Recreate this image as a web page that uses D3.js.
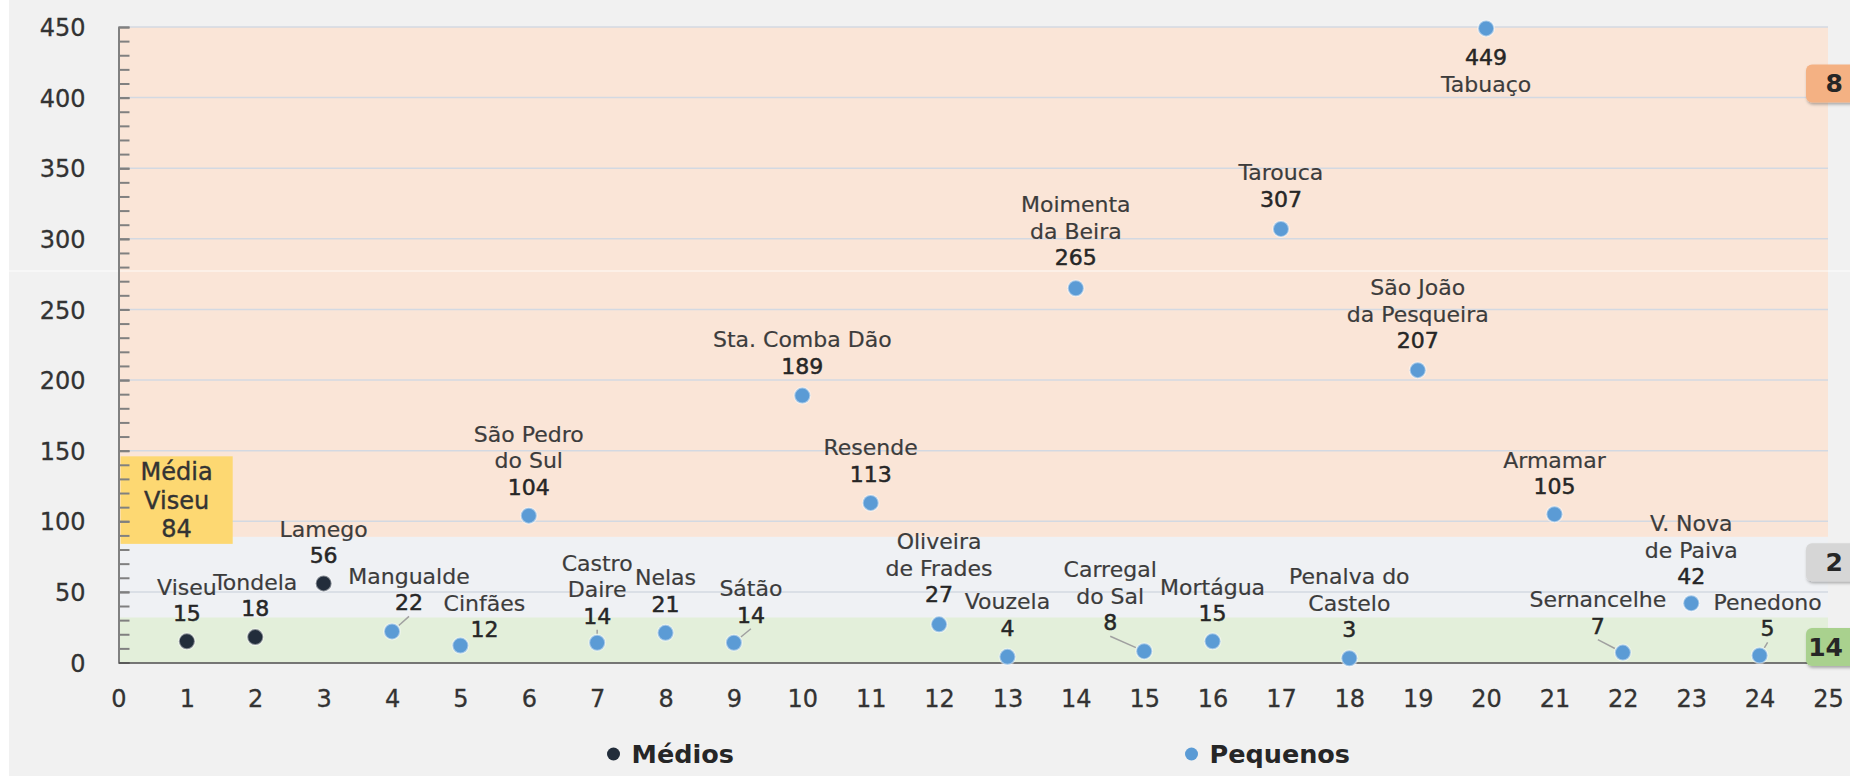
<!DOCTYPE html>
<html>
<head>
<meta charset="utf-8">
<script src="https://cdn.jsdelivr.net/npm/d3@7"></script>
<style>
  body { margin: 0; background: #f1f1f1; overflow: hidden; }
  text { font-family: "DejaVu Sans", sans-serif; }
</style>
</head>
<body>
<div id="chart"></div>
<script>
// data
var mediosNames = ["Viseu", "Tondela", "Lamego"];
var mediosX = [1, 2, 3];
var mediosValues = [15, 18, 56];

var pequenosNames = ["Mangualde", "Cinfães", "São Pedro\ndo Sul", "Castro\nDaire", "Nelas", "Sátão",
  "Sta. Comba Dão", "Resende", "Oliveira\nde Frades", "Vouzela", "Moimenta\nda Beira", "Carregal\ndo Sal",
  "Mortágua", "Tarouca", "Penalva do\nCastelo", "São João\nda Pesqueira", "Tabuaço", "Armamar",
  "Sernancelhe", "V. Nova\nde Paiva", "Penedono"];
var pequenosX = [4, 5, 6, 7, 8, 9, 10, 11, 12, 13, 14, 15, 16, 17, 18, 19, 20, 21, 22, 23, 24];
var pequenosValues = [22, 12, 104, 14, 21, 14, 189, 113, 27, 4, 265, 8, 15, 307, 3, 207, 449, 105, 7, 42, 5];

var mediaViseu = 84;
var seriesNames = ["Médios", "Pequenos"];
var yTicks = [0, 50, 100, 150, 200, 250, 300, 350, 400, 450];
var xTicks = [0, 1, 2, 3, 4, 5, 6, 7, 8, 9, 10, 11, 12, 13, 14, 15, 16, 17, 18, 19, 20, 21, 22, 23, 24, 25];
var bandEdges = [0, 32, 89, 450];   // green / grey / orange zones

// label placement (pixels, relative to the dot), indexed by x - 1
var labelDx = [0, 0, 0, 17, 24, 0, 0, 0, 17, 0, 0, 0, 0, 0, -34, 0, 0, 0, 0, 0, 0, -25, 0, 8];
var labelDy = [-28, -29, -28, -29, -16, -29, -27, -29, -28, -30, -29, -30, -29, -31, -29, -28, -30, -29, -30, 29, -28, -27, -27, -27];
var leaderAt = [4, 7, 9, 15, 22, 24];
var countBoxAt = [11, 71, 410];

var w = 1850, h = 778;
var colMedios = '#222d3b', colPequenos = '#5b9bd5';

var x = d3.scaleLinear().domain([0, 25]).range([118.5, 1828]);
var y = d3.scaleLinear().domain([0, 450]).range([662.5, 27]);

var svg = d3.select('#chart').append('svg')
    .attr('width', w)
    .attr('height', h);

var defs = svg.append('defs');
defs.append('filter').attr('id', 'shadow')
    .attr('x', '-30%').attr('y', '-30%').attr('width', '160%').attr('height', '160%')
  .append('feDropShadow')
    .attr('dx', 1).attr('dy', 2).attr('stdDeviation', 1.5)
    .attr('flood-color', '#000').attr('flood-opacity', 0.3);

//background
svg.append('rect').attr('width', w).attr('height', h).attr('fill', '#ffffff');
svg.append('rect').attr('x', 9).attr('width', w - 9).attr('height', h - 2).attr('fill', '#f1f1f1');

//zones
var bandColors = ['#e3efda', '#eff1f4', '#fae5d7'];
svg.selectAll('rect.band')
    .data(bandColors)
  .enter().append('rect')
    .attr('class', 'band')
    .attr('x', x(0))
    .attr('width', x(25) - x(0))
    .attr('y', function(d, i) { return y(bandEdges[i + 1]); })
    .attr('height', function(d, i) { return y(bandEdges[i]) - y(bandEdges[i + 1]); })
    .attr('fill', function(d) { return d; });

// faint seam in the original picture
svg.append('line')
    .attr('x1', 0).attr('x2', w)
    .attr('y1', 271).attr('y2', 271)
    .attr('stroke', '#ffffff').attr('stroke-width', 1.2).attr('opacity', 0.8);

//gridlines
svg.selectAll('line.grid')
    .data(yTicks.slice(1))
  .enter().append('line')
    .attr('class', 'grid')
    .attr('x1', x(0)).attr('x2', x(25))
    .attr('y1', function(d) { return y(d); })
    .attr('y2', function(d) { return y(d); })
    .attr('stroke', '#d3d9e2')
    .attr('stroke-width', 1.5);

//Média Viseu box
svg.append('rect')
    .attr('x', x(0.03)).attr('width', x(1.67) - x(0.03))
    .attr('y', y(146)).attr('height', y(mediaViseu) - y(146))
    .attr('fill', '#fdd872');
var boxCx = (x(0.03) + x(1.67)) / 2, boxCy = (y(146) + y(mediaViseu)) / 2;
svg.selectAll('text.media')
    .data(['Média', 'Viseu', String(mediaViseu)])
  .enter().append('text')
    .attr('class', 'media')
    .attr('x', boxCx)
    .attr('y', function(d, i) { return boxCy + (i - 1) * 28.5; })
    .attr('dy', '0.36em')
    .attr('text-anchor', 'middle')
    .attr('font-size', 24)
    .attr('fill', '#333')
    .attr('stroke', '#333').attr('stroke-width', 0.4)
    .text(function(d) { return d; });

//axes
var minor = d3.range(0, 451, 10);
var yMinor = svg.append('g')
    .attr('transform', 'translate(' + x(0) + ',0)')
    .call(d3.axisLeft(y).tickValues(minor).tickFormat('').tickSizeInner(-11).tickSizeOuter(0));
var yAxis = svg.append('g')
    .attr('transform', 'translate(' + x(0) + ',0)')
    .call(d3.axisLeft(y).tickValues(yTicks).tickSizeInner(-11).tickSizeOuter(0).tickPadding(33));
[yMinor, yAxis].forEach(function(g) {
  g.selectAll('.tick line').attr('stroke', '#808080').attr('stroke-width', 2);
  g.select('.domain').attr('stroke', '#808080').attr('stroke-width', 2);
});
yAxis.selectAll('text')
    .attr('font-size', 24)
    .attr('fill', '#333')
    .attr('stroke', '#333').attr('stroke-width', 0.3)
    .attr('dy', '0.36em');

var xAxis = svg.append('g')
    .attr('transform', 'translate(0,' + y(0) + ')')
    .call(d3.axisBottom(x).tickValues(xTicks).tickSize(0).tickPadding(0));
xAxis.select('.domain').attr('stroke', '#4d4d4d').attr('stroke-width', 1.6);
xAxis.selectAll('text')
    .attr('y', 35.5)
    .attr('dy', '0.36em')
    .attr('font-size', 24)
    .attr('fill', '#333')
    .attr('stroke', '#333').attr('stroke-width', 0.3);

//points
var points = [];
mediosX.forEach(function(v, i) {
  points.push({ x: v, v: mediosValues[i], name: mediosNames[i], color: colMedios });
});
pequenosX.forEach(function(v, i) {
  points.push({ x: v, v: pequenosValues[i], name: pequenosNames[i], color: colPequenos });
});
points.forEach(function(p) {
  p.cx = x(p.x); p.cy = y(p.v);
  p.lx = p.cx + labelDx[p.x - 1];
  p.ly = p.cy + labelDy[p.x - 1];
});

var r = 8;

//leader lines
svg.selectAll('line.leader')
    .data(points.filter(function(p) { return leaderAt.indexOf(p.x) >= 0; }))
  .enter().append('line')
    .attr('class', 'leader')
    .attr('x1', function(p) { return p.lx; })
    .attr('y1', function(p) { return p.ly + 14; })
    .attr('x2', function(p) {
      var dx = p.lx - p.cx, dy = p.ly + 14 - p.cy, L = Math.sqrt(dx * dx + dy * dy) || 1;
      return p.cx + dx / L * (r + 1);
    })
    .attr('y2', function(p) {
      var dx = p.lx - p.cx, dy = p.ly + 14 - p.cy, L = Math.sqrt(dx * dx + dy * dy) || 1;
      return p.cy + dy / L * (r + 1);
    })
    .attr('stroke', '#a0a0a0')
    .attr('stroke-width', 1.5);

svg.selectAll('circle.pt')
    .data(points)
  .enter().append('circle')
    .attr('class', 'pt')
    .attr('cx', function(p) { return p.cx; })
    .attr('cy', function(p) { return p.cy; })
    .attr('r', r)
    .attr('fill', function(p) { return p.color; })
    .attr('stroke', 'rgba(255,255,255,0.45)')
    .attr('stroke-width', 2);

//labels
var gap = 26.5;
points.forEach(function(p) {
  var lines = p.name.split('\n');
  var below = p.ly > p.cy;
  svg.append('text')
      .attr('x', p.lx).attr('y', p.ly).attr('dy', '0.36em')
      .attr('text-anchor', 'middle')
      .attr('font-size', 22)
      .attr('fill', '#262626')
      .attr('stroke', '#262626').attr('stroke-width', 0.5)
      .text(p.v);
  lines.forEach(function(s, i) {
    var yy = below ? p.ly + gap * (i + 1) : p.ly - gap * (lines.length - i);
    svg.append('text')
        .attr('x', p.lx).attr('y', yy).attr('dy', '0.36em')
        .attr('text-anchor', 'middle')
        .attr('font-size', 22)
        .attr('fill', '#3c3c3c')
        .attr('stroke', '#3c3c3c').attr('stroke-width', 0.2)
        .text(s);
  });
});

//count boxes on the right
var counts = [0, 0, 0];
points.forEach(function(p) {
  for (var k = 0; k < 3; k++) {
    if (p.v >= bandEdges[k] && p.v < bandEdges[k + 1]) counts[k]++;
  }
});
var countColors = ['#a9d18e', '#d6d6d6', '#f4b183'];
var cb = svg.selectAll('g.count')
    .data(counts)
  .enter().append('g')
    .attr('class', 'count');
cb.append('rect')
    .attr('x', 1806)
    .attr('y', function(d, i) { return y(countBoxAt[i]) - 19; })
    .attr('width', 60).attr('height', 38).attr('rx', 6)
    .attr('fill', function(d, i) { return countColors[i]; })
    .attr('filter', 'url(#shadow)');
cb.append('text')
    .attr('x', 1843)
    .attr('y', function(d, i) { return y(countBoxAt[i]); })
    .attr('dy', '0.36em')
    .attr('text-anchor', 'end')
    .attr('font-size', 25)
    .attr('font-weight', 'bold')
    .attr('fill', '#262626')
    .text(function(d) { return d; });

//legend
var legX = [613.5, 1191.5];
var leg = svg.selectAll('g.legend')
    .data(seriesNames)
  .enter().append('g')
    .attr('class', 'legend')
    .attr('transform', function(d, i) { return 'translate(' + legX[i] + ',754)'; });
leg.append('circle')
    .attr('r', 6.5)
    .attr('fill', function(d, i) { return i === 0 ? colMedios : colPequenos; });
leg.append('text')
    .attr('x', 18)
    .attr('dy', '0.36em')
    .attr('font-size', 25.5)
    .attr('font-weight', 'bold')
    .attr('fill', '#262626')
    .text(function(d) { return d; });
</script>
</body>
</html>
